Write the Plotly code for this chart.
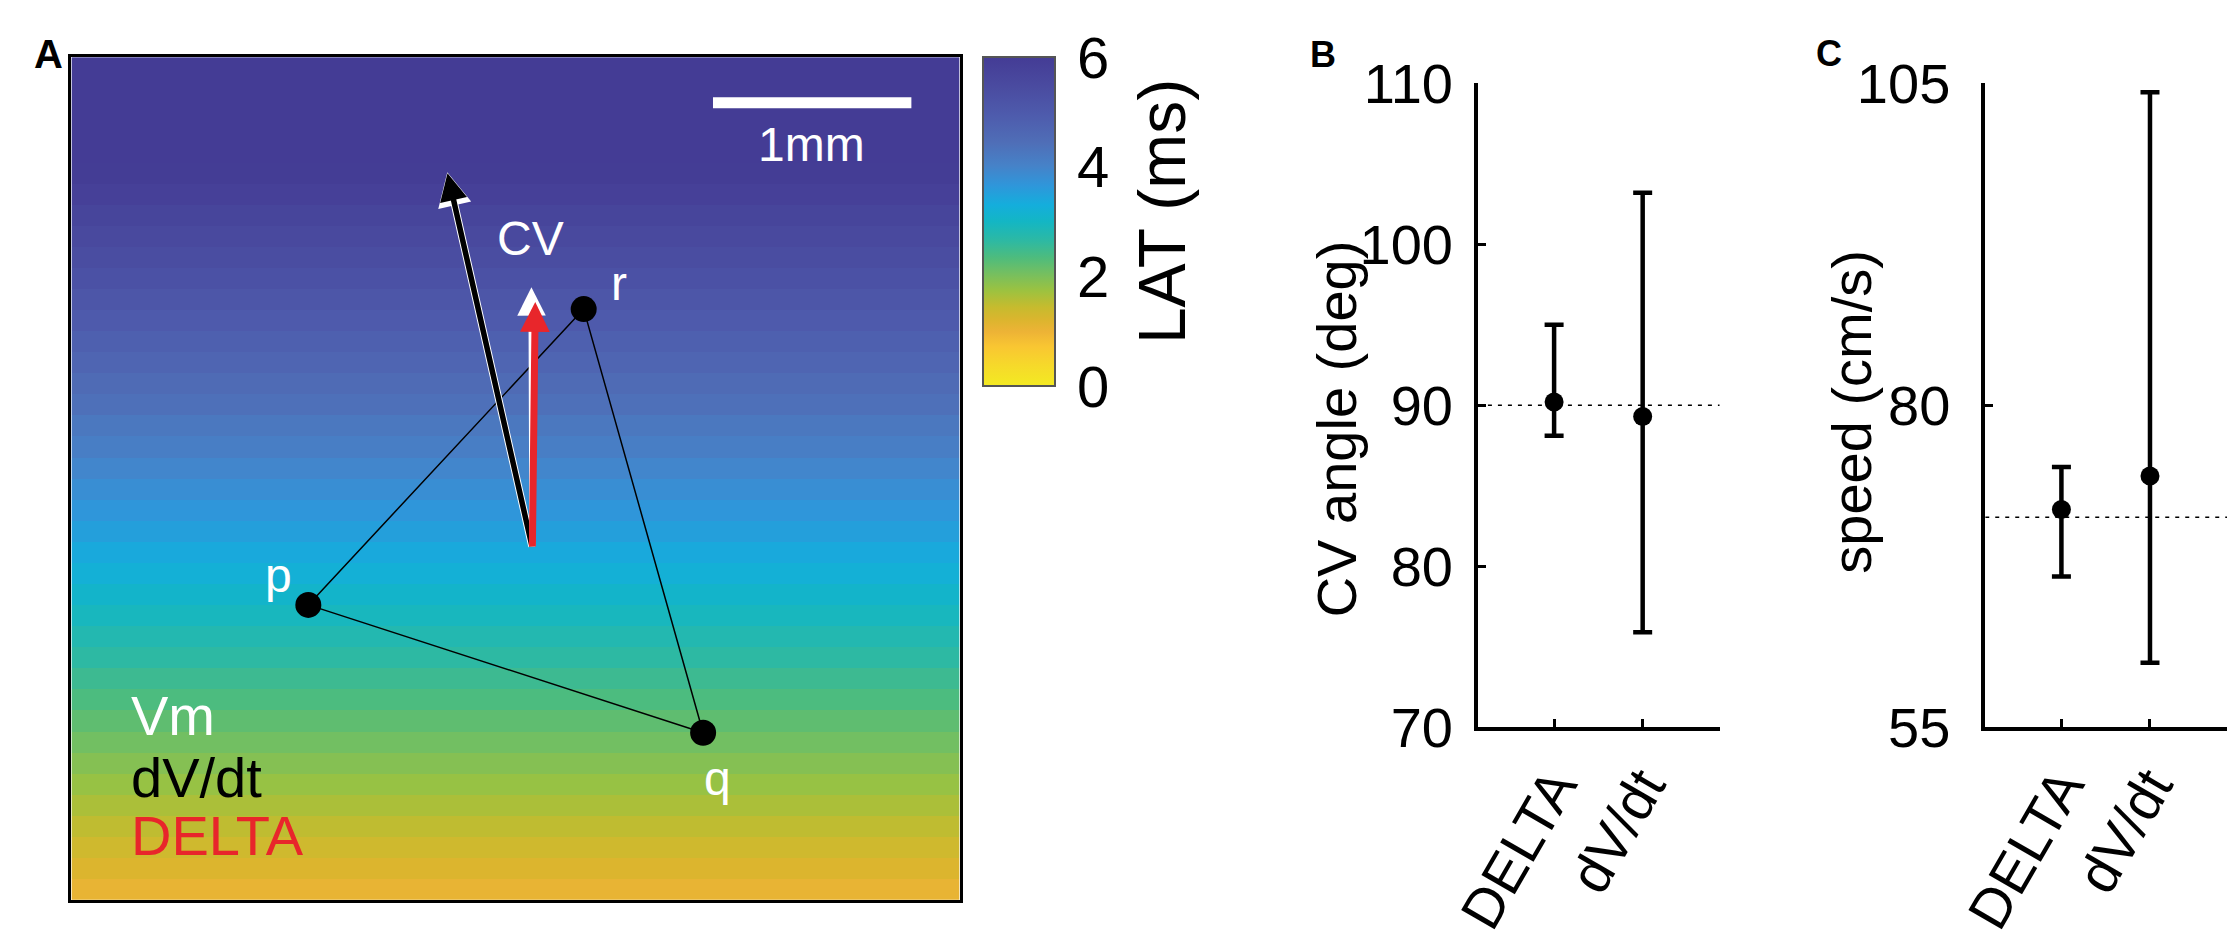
import plotly.graph_objects as go

# ---- data ----
# local activation time per map row (ms), bottom row first; plane wave so each row is uniform
lat_rows = [1.05, 1.20, 1.34, 1.49, 1.63, 1.78, 1.92, 2.07, 2.21, 2.36,
            2.50, 2.65, 2.79, 2.94, 3.08, 3.23, 3.37, 3.52, 3.66, 3.81,
            3.95, 4.10, 4.24, 4.39, 4.53, 4.68, 4.82, 4.97, 5.11, 5.26,
            5.40, 5.55, 5.69, 5.84, 5.98, 6.13, 6.27, 6.42, 6.56, 6.71]
map_width_mm = 4.5
map_height_mm = 4.515

# electrodes (mm)
electrode_names = ['p', 'q', 'r']
electrode_x = [1.20, 3.20, 2.595]
electrode_y = [1.58, 0.895, 3.165]

# conduction velocity vectors (mm), all from the same origin
cv_origin = [2.335, 1.885]
cv_names = ['Vm', 'dV/dt', 'DELTA']
cv_tip_x = [2.33, 1.895, 2.35]
cv_tip_y = [3.32, 3.94, 3.24]

methods = ['DELTA', 'dV/dt']
angle_mean = [90.2, 89.3]
angle_hi = [95.0, 103.2]
angle_lo = [88.1, 75.9]
angle_ref = 90

speed_mean = [71.9, 74.5]
speed_hi = [75.2, 104.3]
speed_lo = [66.7, 60.0]
speed_ref = 71.3

# ---- styling ----
W, H = 2231, 943
FONT = 'Liberation Sans, Arial, Helvetica, sans-serif'
RED = '#E8262B'

parula_r = [
    [0.000, '#F3EA22'], [0.060, '#F6DA2A'], [0.120, '#F9C632'], [0.165, '#EDB336'],
    [0.200, '#DCB52E'], [0.240, '#C6BB2E'], [0.290, '#9CC240'], [0.340, '#76BF5F'],
    [0.390, '#4EBC7D'], [0.440, '#2EB9A2'], [0.500, '#13B6C4'], [0.550, '#14AEDC'],
    [0.610, '#2F96DA'], [0.670, '#4682C8'], [0.740, '#4F6EB7'], [0.820, '#4E5CAD'],
    [0.910, '#4A4BA0'], [1.000, '#443C95']]


def fx(p):
    return p / W


def fy(p):
    return 1 - p / H


row_h = map_height_mm / len(lat_rows)

heat = go.Heatmap(
    z=[[v] for v in lat_rows],
    x0=map_width_mm / 2, dx=map_width_mm,
    y0=row_h / 2, dy=row_h,
    zmin=0, zmax=6, colorscale=parula_r, hoverinfo='skip',
    xaxis='x', yaxis='y',
    colorbar=dict(x=fx(967), xanchor='left', xpad=0,
                  y=fy(204.5), yanchor='middle', ypad=0,
                  len=(381 - 28) / H, lenmode='fraction',
                  thickness=72, thicknessmode='pixels',
                  outlinewidth=2, outlinecolor='#555555',
                  tickvals=[0, 2, 4, 6], ticks='outside', ticklen=10,
                  tickcolor='rgba(0,0,0,0)',
                  tickfont=dict(size=58, color='black', family=FONT)))

triangle = go.Scatter(x=electrode_x + electrode_x[:1], y=electrode_y + electrode_y[:1],
                      mode='lines', line=dict(color='black', width=1.5),
                      xaxis='x', yaxis='y', hoverinfo='skip')
dots = go.Scatter(x=electrode_x, y=electrode_y, mode='markers',
                  marker=dict(color='black', size=26), xaxis='x', yaxis='y')

x_lim = [0.14, 2.87]


def err_trace(mean, hi, lo, xa, ya):
    return go.Scatter(x=[1, 2], y=mean, mode='markers', xaxis=xa, yaxis=ya,
                      marker=dict(color='black', size=19),
                      error_y=dict(type='data', symmetric=False,
                                   array=[h - m for h, m in zip(hi, mean)],
                                   arrayminus=[m - l for m, l in zip(mean, lo)],
                                   color='black', thickness=4.5, width=9.5))


def ref_trace(val, xa, ya):
    return go.Scatter(x=x_lim, y=[val, val], mode='lines', xaxis=xa, yaxis=ya,
                      line=dict(color='black', width=1.5, dash='4px,6px'), hoverinfo='skip')


fig = go.Figure([heat, triangle, dots,
                 ref_trace(angle_ref, 'x2', 'y2'), err_trace(angle_mean, angle_hi, angle_lo, 'x2', 'y2'),
                 ref_trace(speed_ref, 'x3', 'y3'), err_trace(speed_mean, speed_hi, speed_lo, 'x3', 'y3')])

map_ax = dict(showline=True, mirror=True, linewidth=3, linecolor='black',
              showticklabels=False, ticks='', showgrid=False, zeroline=False)

stat_x = dict(range=x_lim, tickvals=[1, 2], ticktext=methods, tickangle=-60,
              ticks='inside', ticklen=8, tickwidth=3, tickcolor='black',
              showline=True, linewidth=3.5, linecolor='black',
              showgrid=False, zeroline=False, tickfont=dict(size=56))
stat_y = dict(ticks='inside', ticklen=8, tickwidth=3, tickcolor='black',
              showline=True, linewidth=3.5, linecolor='black',
              showgrid=False, zeroline=False, tickfont=dict(size=56))

fig.update_layout(
    width=W, height=H, margin=dict(l=0, r=0, t=0, b=0),
    paper_bgcolor='white', plot_bgcolor='white', showlegend=False,
    font=dict(family=FONT, color='black'),
    xaxis=dict(map_ax, domain=[fx(43), fx(943)], range=[0, map_width_mm], anchor='y'),
    yaxis=dict(map_ax, domain=[fy(931), fy(28)], range=[0, map_height_mm], anchor='x'),
    xaxis2=dict(stat_x, domain=[fx(1468), fx(1713)], anchor='y2'),
    yaxis2=dict(stat_y, domain=[fy(746), fy(56)], range=[70, 110],
                tickvals=[70, 80, 90, 100, 110], anchor='x2', ticklabelstandoff=10),
    xaxis3=dict(stat_x, domain=[fx(1982), fx(2227)], anchor='y3'),
    yaxis3=dict(stat_y, domain=[fy(746), fy(56)], range=[55, 105],
                tickvals=[55, 80, 105], anchor='x3', ticklabelstandoff=20),
)

# scale bar
fig.add_shape(type='line', xref='x', yref='y', x0=3.25, x1=4.255, y0=4.27, y1=4.27,
              line=dict(color='white', width=11))

ann = []

# CV arrows: white outline under the dV/dt arrow, then Vm (white) and DELTA (red)
arrow_style = {
    'dV/dt': [dict(color='white', width=7.5, size=0.9, standoff=8),
              dict(color='black', width=5.5, size=1.0, standoff=9)],
    'Vm': [dict(color='white', width=6, size=0.95, standoff=7)],
    'DELTA': [dict(color=RED, width=7, size=0.85, standoff=7)],
}
for name in ['dV/dt', 'Vm', 'DELTA']:
    i = cv_names.index(name)
    for st in arrow_style[name]:
        ann.append(dict(x=cv_tip_x[i], y=cv_tip_y[i], xref='x', yref='y',
                        ax=cv_origin[0], ay=cv_origin[1], axref='x', ayref='y',
                        text='', showarrow=True, arrowhead=2, arrowcolor=st['color'],
                        arrowwidth=st['width'], arrowsize=st['size'], standoff=st['standoff']))


def label(x, y, text, size, color='black', xref='x', yref='y', xanchor='center', **kw):
    return dict(x=x, y=y, xref=xref, yref=yref, text=text, showarrow=False,
                xanchor=xanchor, yanchor='middle', font=dict(size=size, color=color), **kw)


label_shift = {'p': (-30, 29), 'q': (14, -46), 'r': (35, 26)}
for n, x, y in zip(electrode_names, electrode_x, electrode_y):
    sx, sy = label_shift[n]
    ann.append(label(x, y, n, 48, 'white', xshift=sx, yshift=sy))

ann.append(label(2.325, 3.545, 'CV', 48, 'white'))
ann.append(label(3.75, 4.045, '1mm', 48, 'white'))

legend_y = {'Vm': 0.99, 'dV/dt': 0.655, 'DELTA': 0.345}
legend_c = {'Vm': 'white', 'dV/dt': 'black', 'DELTA': RED}
for n in cv_names:
    ann.append(label(0.29, legend_y[n], n, 56, legend_c[n], xanchor='left'))

# colorbar and axis titles
ann.append(label(fx(1148), fy(194), 'LAT (ms)', 66, xref='paper', yref='paper', textangle=-90))
ann.append(label(fx(1325), fy(426), 'CV angle (deg)', 56, xref='paper', yref='paper', textangle=-90))
ann.append(label(fx(1847), fy(408), 'speed (cm/s)', 56, xref='paper', yref='paper', textangle=-90))

# panel letters
for letter, px, py, sz in [('A', 20, 25, 40), ('B', 1311, 25, 36), ('C', 1824, 24, 36)]:
    ann.append(label(fx(px), fy(py), '<b>%s</b>' % letter, sz, xref='paper', yref='paper'))

fig.update_layout(annotations=ann)

fig.write_html("out.html", config={'displayModeBar': False},
               post_script="document.body.style.margin='0';")
